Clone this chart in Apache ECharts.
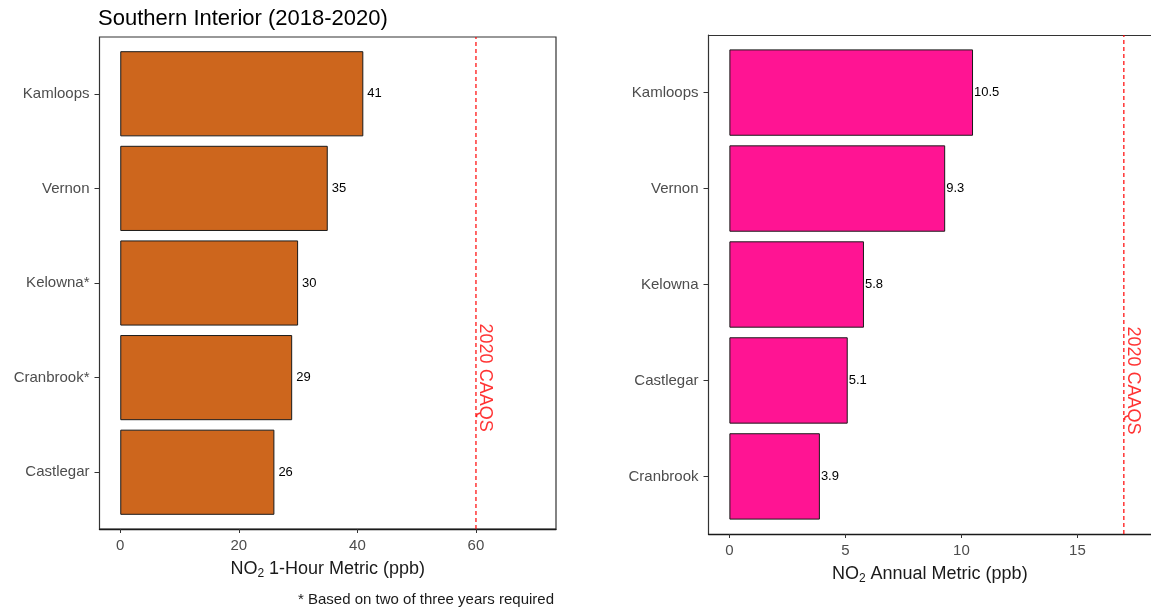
<!DOCTYPE html>
<html>
<head>
<meta charset="utf-8">
<title>NO2 Metrics – Southern Interior</title>
<script src="https://cdn.jsdelivr.net/npm/echarts@6/dist/echarts.min.js"></script>
<style>
  html, body { margin: 0; padding: 0; background: #ffffff; }
  #chart { width: 1151px; height: 609px; }
</style>
</head>
<body>
<div id="chart"></div>
<script>
// NO2 1-hour metric by station (ppb), top to bottom
const hourSites = ['Kamloops', 'Vernon', 'Kelowna*', 'Cranbrook*', 'Castlegar'];
const hourValues = [41, 35, 30, 29, 26];
const hourTicks = [0, 20, 40, 60];

// NO2 annual metric by station (ppb), top to bottom
const annualSites = ['Kamloops', 'Vernon', 'Kelowna', 'Castlegar', 'Cranbrook'];
const annualValues = [10.5, 9.3, 5.8, 5.1, 3.9];
const annualTicks = [0, 5, 10, 15];

// 2020 CAAQS levels: [1-hour, annual]
const caaqsLevels = [60, 17];
const caaqsLabel = '2020 CAAQS';
// row (counted from the bottom) at which the standard's label sits
const caaqsLabelRow = 2;

const titleText = 'Southern Interior (2018-2020)';
const footnoteText = '* Based on two of three years required';

const FONT = '"Liberation Sans", Arial, Helvetica, sans-serif';
const AXIS_GREY = '#4d4d4d';
const FRAME = '#333333';

const chart = echarts.init(document.getElementById('chart'), null, { renderer: 'canvas' });

// panel geometry: outer box (frame + x axis) and inner band area (bars).
// The annual panel runs past the right edge of the page, so its frame is
// drawn with axis lines (left + top) instead of a closed grid border.
const panels = [
  { left: 99.5, top: 37, width: 456.5, height: 492, xmin: -3.5, xmax: 73.5, closed: true,
    sites: hourSites, values: hourValues, ticks: hourTicks, color: '#CD661D',
    level: caaqsLevels[0], name: ' 1-Hour Metric (ppb)', labelDist: 4, nameGap: 27 },
  { left: 708.5, top: 35, width: 442.5, height: 499, xmin: -0.9, xmax: 18.17, closed: false,
    sites: annualSites, values: annualValues, ticks: annualTicks, color: '#FF1493',
    level: caaqsLevels[1], name: ' Annual Metric (ppb)', labelDist: 1, nameGap: 21 }
];

const grid = [], xAxis = [], yAxis = [], series = [];

panels.forEach((p, i) => {
  const unit = p.height / 5.2;           // one category step
  const inset = unit * 0.1;              // extra band padding at each end
  const outer = i * 2, inner = i * 2 + 1;

  grid.push({ left: p.left, top: p.top, width: p.width, height: p.height,
              show: p.closed, borderColor: FRAME, borderWidth: 1.2, backgroundColor: 'transparent' });
  grid.push({ left: p.left, top: p.top + inset, width: p.width, height: p.height - 2 * inset });

  xAxis.push({
    gridIndex: outer, type: 'value', min: p.xmin, max: p.xmax,
    axisLine: { show: true, onZero: false, lineStyle: { color: '#1a1a1a', width: 1.3 } },
    axisTick: { show: true, length: 4, customValues: p.ticks, lineStyle: { color: FRAME } },
    axisLabel: { customValues: p.ticks, color: AXIS_GREY, fontSize: 15, fontFamily: FONT, margin: 9 },
    splitLine: { show: false },
    name: '{t|NO}{s|2}{t|' + p.name + '}',
    nameLocation: 'middle', nameGap: p.nameGap,
    nameTextStyle: {
      rich: {
        t: { fontSize: 18, color: '#1a1a1a', fontFamily: FONT, lineHeight: 22 },
        s: { fontSize: 12, color: '#1a1a1a', fontFamily: FONT, padding: [10, 0, 0, 0], lineHeight: 22 }
      }
    }
  });
  xAxis.push({ gridIndex: inner, type: 'value', min: p.xmin, max: p.xmax, show: false });

  yAxis.push({ gridIndex: outer, type: 'value', min: 0.4, max: 5.6, show: false });
  yAxis.push({
    gridIndex: inner, type: 'category', data: p.sites, inverse: true,
    axisLine: { show: false, onZero: false },
    axisTick: { show: true, length: 5, alignWithLabel: true, lineStyle: { color: FRAME } },
    axisLabel: { color: AXIS_GREY, fontSize: 15, fontFamily: FONT, margin: 10 }
  });

  if (!p.closed) {
    // open frame: top edge and left edge only
    xAxis.push({
      gridIndex: outer, type: 'value', position: 'top', min: p.xmin, max: p.xmax,
      axisLine: { show: true, onZero: false, lineStyle: { color: FRAME, width: 1.2 } },
      axisTick: { show: false }, axisLabel: { show: false }, splitLine: { show: false }
    });
    yAxis.push({
      gridIndex: outer, type: 'value', position: 'left', min: 0.4, max: 5.6,
      axisLine: { show: true, onZero: false, lineStyle: { color: FRAME, width: 1.2 } },
      axisTick: { show: false }, axisLabel: { show: false }, splitLine: { show: false }
    });
  }

  series.push({
    type: 'bar', xAxisIndex: xAxis.indexOf(xAxis.find(a => a.gridIndex === inner)),
    yAxisIndex: yAxis.indexOf(yAxis.find(a => a.gridIndex === inner)),
    data: p.values, barWidth: '90%',
    itemStyle: { color: p.color, borderColor: '#1a1a1a', borderWidth: 1 },
    label: { show: true, position: 'right', distance: p.labelDist, color: '#000000',
             fontSize: 13, fontFamily: FONT },
    silent: true
  });

  const ox = xAxis.indexOf(xAxis.find(a => a.gridIndex === outer));
  const oy = yAxis.indexOf(yAxis.find(a => a.gridIndex === outer));

  // dashed standard line across the full panel height
  series.push({
    type: 'line', xAxisIndex: ox, yAxisIndex: oy,
    data: [[p.level, 0.4], [p.level, 5.6]], symbol: 'none',
    lineStyle: { color: '#FF0000', width: 1.2, type: [4, 3] },
    silent: true, z: 3
  });

  // standard label, reading top to bottom, just right of the line
  series.push({
    type: 'scatter', xAxisIndex: ox, yAxisIndex: oy,
    data: [[p.level, caaqsLabelRow]], symbolSize: 0,
    label: { show: true, formatter: caaqsLabel, position: 'inside', rotate: -90,
             offset: [0, -9], color: '#FF0000', fontSize: 18, fontFamily: FONT,
             align: 'center', verticalAlign: 'middle' },
    silent: true, z: 4
  });
});

chart.setOption({
  animation: false,
  backgroundColor: '#ffffff',
  title: {
    text: titleText, left: 93, top: 3,
    textStyle: { fontSize: 22, fontWeight: 'normal', color: '#000000', fontFamily: FONT }
  },
  grid, xAxis, yAxis, series,
  graphic: [{
    type: 'text', right: 1151 - 554, top: 592,
    style: { text: footnoteText, fontSize: 15, fontFamily: FONT, fill: '#1a1a1a' }
  }]
});
</script>
</body>
</html>
